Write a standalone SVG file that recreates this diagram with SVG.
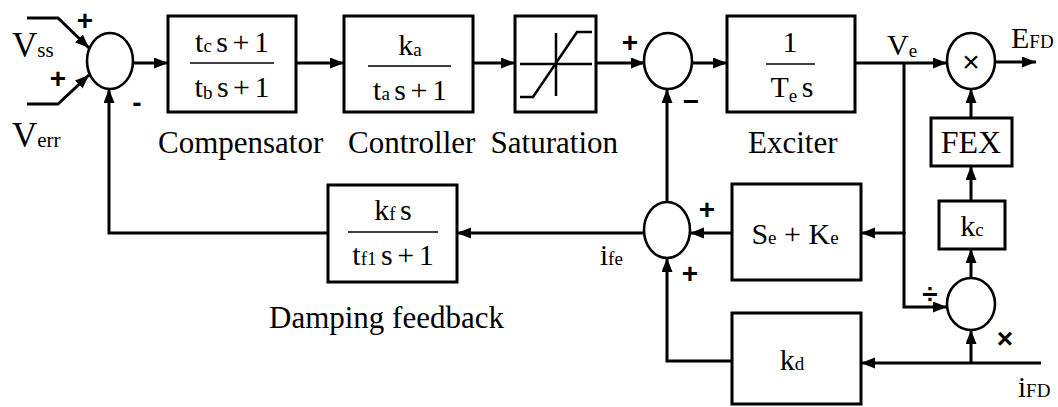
<svg xmlns="http://www.w3.org/2000/svg" width="1058" height="407" viewBox="0 0 1058 407">
<style>
.box{fill:#fff;stroke:#000;stroke-width:3}
.sum{fill:#fff;stroke:#000;stroke-width:2.6}
.w{fill:none;stroke:#000;stroke-width:3}
.ar{fill:none;stroke:#000;stroke-width:3;marker-end:url(#ah)}
.bar{stroke:#000;stroke-width:1.6}
.t{font-family:"Liberation Serif","Times New Roman",serif;fill:#000}
.f{font-size:30px;text-anchor:middle;word-spacing:-3px}
.g{font-size:30px;text-anchor:middle}
.lb{font-size:31px}
.sg{font-family:"Liberation Sans",Arial,sans-serif;font-weight:bold;font-size:28px;text-anchor:middle;fill:#000}
.sub{font-size:19px}
</style>
<defs>
<marker id="ah" markerUnits="userSpaceOnUse" markerWidth="15" markerHeight="12" refX="14" refY="5.5" orient="auto">
<path d="M0,0 L14,5.5 L0,11 z" fill="#000"/>
</marker>
</defs>
<rect width="1058" height="407" fill="#fff"/>

<g id="connectors">
<polyline class="ar" points="27,18 58,18 89,48"/>
<polyline class="ar" points="27,104 58,104 89,75"/>
<line class="ar" x1="133" y1="63" x2="168" y2="63"/>
<line class="ar" x1="296" y1="63" x2="344" y2="63"/>
<line class="ar" x1="473" y1="63" x2="515" y2="63"/>
<line class="ar" x1="596" y1="63" x2="645" y2="63"/>
<line class="ar" x1="692" y1="63" x2="727" y2="63"/>
<line class="ar" x1="855" y1="63" x2="947" y2="63"/>
<line class="ar" x1="995" y1="62" x2="1036" y2="62"/>
<line class="ar" x1="971" y1="118" x2="971" y2="89"/>
<line class="ar" x1="971" y1="201" x2="971" y2="166"/>
<line class="ar" x1="971" y1="278" x2="971" y2="249"/>
<line class="w" x1="904" y1="63" x2="904" y2="234"/>
<polyline class="ar" points="904,232 904,307 947,307"/>
<line class="ar" x1="904" y1="233" x2="861" y2="233"/>
<line class="ar" x1="732" y1="233" x2="690" y2="233"/>
<line class="ar" x1="667" y1="202" x2="667" y2="89"/>
<line class="ar" x1="644" y1="233" x2="457" y2="233"/>
<polyline class="ar" points="328,233 109,233 109,89"/>
<line class="ar" x1="1041" y1="363" x2="861" y2="363"/>
<line class="ar" x1="971" y1="364" x2="971" y2="330"/>
<polyline class="ar" points="732,361 667,361 667,258"/>

<text class="sg" x="85" y="30">+</text>
<text class="sg" x="58" y="88">+</text>
<text class="sg" x="137" y="112">-</text>
<text class="sg" x="630" y="52">+</text>
<text class="sg" x="691" y="111">−</text>
<text class="sg" x="707" y="219">+</text>
<text class="sg" x="690" y="283">+</text>
<text class="sg" x="930" y="303">÷</text>
<text class="sg" x="1005" y="348">×</text>

<text class="t" x="12" y="57" font-size="35">V<tspan font-size="21">ss</tspan></text>
<text class="t" x="12" y="147" font-size="35">V<tspan font-size="21">err</tspan></text>
<text class="t" x="887" y="55" font-size="30">V<tspan font-size="19" dy="2">e</tspan></text>
<text class="t" x="1011" y="48" font-size="30">E<tspan font-size="19">FD</tspan></text>
<text class="t" x="1018" y="397" font-size="29">i<tspan font-size="19">FD</tspan></text>
<text class="t" x="600" y="265" font-size="29">i<tspan font-size="19">fe</tspan></text>
</g>

<g id="sum1"><ellipse class="sum" cx="110" cy="61" rx="23" ry="28"/></g>

<g id="compensator">
<rect class="box" x="168" y="16" width="128" height="96"/>
<text class="t f" x="232" y="52">t<tspan class="sub">c</tspan> s + 1</text>
<line class="bar" x1="190" y1="63" x2="274" y2="63"/>
<text class="t f" x="232" y="97">t<tspan class="sub" dy="2">b</tspan><tspan dy="-2"> s + 1</tspan></text>
<text class="t lb" x="158" y="153">Compensator</text>
</g>

<g id="controller">
<rect class="box" x="344" y="16" width="129" height="96"/>
<text class="t f" x="410" y="55">k<tspan class="sub" dy="1">a</tspan></text>
<line class="bar" x1="368" y1="66" x2="451" y2="66"/>
<text class="t f" x="410" y="100">t<tspan class="sub">a</tspan> s + 1</text>
<text class="t lb" x="348" y="153">Controller</text>
</g>

<g id="saturation">
<rect class="box" x="515" y="16" width="81" height="96"/>
<line x1="520" y1="64" x2="592" y2="64" stroke="#000" stroke-width="2.5"/>
<line x1="556" y1="33" x2="556" y2="96" stroke="#000" stroke-width="2.5"/>
<polyline points="520,97 533,97 577,32 592,32" fill="none" stroke="#000" stroke-width="2.5"/>
<text class="t lb" x="618" y="153" text-anchor="end">Saturation</text>
</g>

<g id="sum2"><ellipse class="sum" cx="668" cy="61" rx="24" ry="28"/></g>

<g id="exciter">
<rect class="box" x="727" y="16" width="128" height="96"/>
<text class="t g" x="790" y="52">1</text>
<line class="bar" x1="766" y1="64" x2="815" y2="64"/>
<text class="t f" x="792" y="97">T<tspan class="sub" dy="5">e</tspan><tspan dy="-5"> s</tspan></text>
<text class="t lb" x="748" y="153">Exciter</text>
</g>

<g id="multiplier">
<ellipse class="sum" cx="971" cy="61" rx="24" ry="28"/>
<text x="971" y="72" font-family="Liberation Sans,Arial,sans-serif" font-size="30" text-anchor="middle">×</text>
</g>

<g id="fex">
<rect class="box" x="931" y="118" width="81" height="48"/>
<text class="t" x="971" y="153" font-size="32" text-anchor="middle">FEX</text>
</g>

<g id="kc">
<rect class="box" x="939" y="201" width="66" height="48"/>
<text class="t g" x="972" y="236">k<tspan class="sub">c</tspan></text>
</g>

<g id="divider"><ellipse class="sum" cx="971" cy="304" rx="24" ry="26"/></g>

<g id="sum3"><ellipse class="sum" cx="667" cy="230" rx="23" ry="28"/></g>

<g id="seke">
<rect class="box" x="732" y="184" width="129" height="96"/>
<text class="t g" x="795" y="244">S<tspan class="sub">e</tspan> + K<tspan class="sub">e</tspan></text>
</g>

<g id="kd">
<rect class="box" x="732" y="313" width="129" height="91"/>
<text class="t g" x="792" y="370">k<tspan class="sub">d</tspan></text>
</g>

<g id="damping">
<rect class="box" x="328" y="185" width="129" height="97"/>
<text class="t f" x="393" y="220">k<tspan class="sub">f</tspan> s</text>
<line class="bar" x1="348" y1="232" x2="438" y2="232"/>
<text class="t f" x="393" y="265">t<tspan class="sub">f1</tspan> s + 1</text>
<text class="t lb" x="269" y="328">Damping feedback</text>
</g>
</svg>
